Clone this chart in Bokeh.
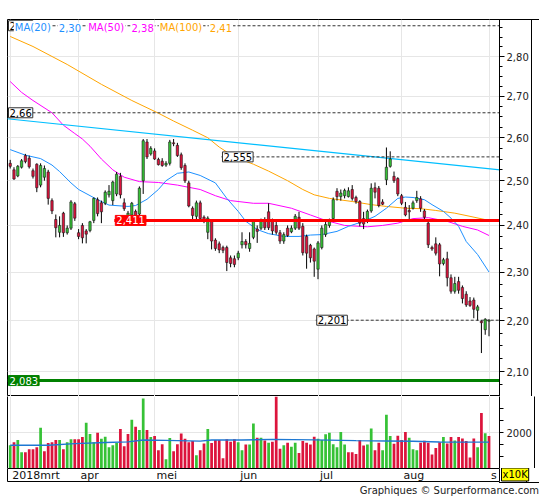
from bokeh.plotting import figure
from bokeh.models import (Range1d, FixedTicker, Label, ColumnDataSource,
                          CustomJSTickFormatter, Div, LinearAxis)
from bokeh.layouts import column
from bokeh.embed import file_html
from bokeh.resources import INLINE

FONT = "DejaVu Sans"

# ---------------- data ----------------
month_labels = ["2018mrt", "apr", "mei", "jun", "jul", "aug", "s"]
month_start = [0, 18, 38, 60, 81, 103, 126]

opens = [2.540, 2.525, 2.511, 2.531, 2.558, 2.552, 2.523, 2.538, 2.490, 2.508,
         2.520, 2.455, 2.413, 2.385, 2.427, 2.384, 2.394, 2.448, 2.384, 2.400,
         2.388, 2.389, 2.411, 2.457, 2.450, 2.449, 2.468, 2.455, 2.470, 2.510,
         2.450, 2.416, 2.423, 2.431, 2.425, 2.500, 2.590, 2.562, 2.569, 2.549,
         2.545, 2.536, 2.540, 2.588, 2.582, 2.560, 2.535, 2.495, 2.438, 2.420,
         2.450, 2.418, 2.385, 2.410, 2.368, 2.360, 2.352, 2.352, 2.330, 2.328,
         2.330, 2.358, 2.365, 2.350, 2.374, 2.392, 2.394, 2.410, 2.430, 2.410,
         2.400, 2.384, 2.366, 2.394, 2.386, 2.394, 2.418, 2.398, 2.376, 2.357,
         2.349, 2.306, 2.352, 2.380, 2.400, 2.415, 2.476, 2.464, 2.466, 2.464,
         2.480, 2.462, 2.453, 2.415, 2.409, 2.432, 2.484, 2.483, 2.452, 2.502,
         2.533, 2.510, 2.505, 2.466, 2.440, 2.433, 2.438, 2.455, 2.459, 2.432,
         2.405, 2.352, 2.360, 2.358, 2.318, 2.328, 2.288, 2.260, 2.280, 2.268,
         2.254, 2.240, 2.242, 2.221, 2.199, 2.182, 2.199]
highs = [2.548, 2.531, 2.536, 2.550, 2.562, 2.558, 2.528, 2.540, 2.540, 2.535,
         2.525, 2.460, 2.424, 2.420, 2.430, 2.400, 2.456, 2.452, 2.392, 2.405,
         2.392, 2.410, 2.462, 2.462, 2.455, 2.478, 2.490, 2.500, 2.520, 2.518,
         2.460, 2.432, 2.452, 2.435, 2.487, 2.597, 2.597, 2.580, 2.575, 2.553,
         2.552, 2.545, 2.595, 2.597, 2.588, 2.565, 2.540, 2.500, 2.442, 2.455,
         2.455, 2.422, 2.420, 2.414, 2.372, 2.365, 2.356, 2.356, 2.335, 2.335,
         2.345, 2.385, 2.370, 2.385, 2.413, 2.400, 2.415, 2.418, 2.449, 2.415,
         2.410, 2.390, 2.385, 2.400, 2.400, 2.425, 2.430, 2.405, 2.380, 2.360,
         2.352, 2.366, 2.400, 2.408, 2.415, 2.462, 2.483, 2.480, 2.482, 2.485,
         2.490, 2.466, 2.456, 2.430, 2.435, 2.494, 2.496, 2.488, 2.458, 2.577,
         2.568, 2.521, 2.508, 2.470, 2.452, 2.445, 2.455, 2.477, 2.465, 2.436,
         2.410, 2.356, 2.374, 2.362, 2.330, 2.343, 2.295, 2.290, 2.290, 2.272,
         2.260, 2.248, 2.247, 2.232, 2.201, 2.205, 2.203]
lows = [2.528, 2.502, 2.508, 2.528, 2.540, 2.528, 2.505, 2.474, 2.485, 2.500,
        2.446, 2.425, 2.374, 2.374, 2.375, 2.380, 2.390, 2.410, 2.370, 2.361,
        2.361, 2.385, 2.405, 2.420, 2.405, 2.445, 2.462, 2.445, 2.465, 2.460,
        2.432, 2.410, 2.410, 2.410, 2.420, 2.470, 2.550, 2.558, 2.548, 2.535,
        2.532, 2.532, 2.535, 2.580, 2.555, 2.525, 2.495, 2.440, 2.408, 2.410,
        2.410, 2.405, 2.370, 2.348, 2.345, 2.340, 2.340, 2.302, 2.310, 2.310,
        2.325, 2.350, 2.350, 2.343, 2.370, 2.362, 2.390, 2.390, 2.390, 2.380,
        2.380, 2.360, 2.360, 2.375, 2.383, 2.390, 2.390, 2.335, 2.307, 2.320,
        2.290, 2.285, 2.348, 2.375, 2.395, 2.410, 2.455, 2.455, 2.460, 2.462,
        2.455, 2.448, 2.398, 2.392, 2.405, 2.428, 2.460, 2.440, 2.445, 2.490,
        2.530, 2.495, 2.465, 2.445, 2.420, 2.413, 2.435, 2.450, 2.430, 2.412,
        2.351, 2.345, 2.335, 2.291, 2.314, 2.270, 2.255, 2.255, 2.255, 2.235,
        2.228, 2.228, 2.205, 2.200, 2.136, 2.172, 2.169]
closes = [2.533, 2.504, 2.533, 2.546, 2.544, 2.532, 2.510, 2.484, 2.535, 2.528,
          2.460, 2.432, 2.395, 2.400, 2.384, 2.394, 2.452, 2.416, 2.376, 2.373,
          2.381, 2.408, 2.460, 2.426, 2.430, 2.474, 2.476, 2.497, 2.515, 2.468,
          2.437, 2.427, 2.449, 2.420, 2.483, 2.593, 2.555, 2.575, 2.550, 2.537,
          2.535, 2.540, 2.590, 2.586, 2.558, 2.530, 2.500, 2.443, 2.422, 2.450,
          2.415, 2.412, 2.416, 2.366, 2.350, 2.347, 2.346, 2.320, 2.318, 2.316,
          2.340, 2.365, 2.358, 2.361, 2.409, 2.387, 2.409, 2.395, 2.395, 2.388,
          2.385, 2.366, 2.380, 2.378, 2.394, 2.420, 2.394, 2.341, 2.340, 2.330,
          2.323, 2.362, 2.394, 2.402, 2.410, 2.457, 2.464, 2.472, 2.478, 2.477,
          2.460, 2.453, 2.405, 2.403, 2.431, 2.483, 2.474, 2.444, 2.447, 2.531,
          2.550, 2.500, 2.470, 2.449, 2.423, 2.430, 2.450, 2.462, 2.438, 2.418,
          2.358, 2.349, 2.340, 2.317, 2.326, 2.288, 2.260, 2.276, 2.262, 2.245,
          2.232, 2.231, 2.223, 2.228, 2.196, 2.203, 2.201]
volumes = [1300, 1470, 1590, 910, 910, 1080, 1080, 1190, 2270, 960,
           1420, 1470, 1590, 1590, 1080, 1470, 1640, 1640, 1640, 1760,
           2550, 1930, 1470, 2000, 1660, 1770, 1190, 1300, 1420, 2210,
           1250, 1930, 2720, 2330, 2150, 3910, 2150, 1760, 1810, 1020,
           1360, 510, 1700, 960, 1360, 1950, 1660, 1470, 1530, 740,
           1020, 1400, 2210, 1420, 1590, 1590, 570, 1640, 1490, 1640,
           1470, 1020, 1340, 1340, 2510, 1720, 1720, 1570, 1440, 1500,
           4100, 1100, 1300, 1440, 1210, 1440, 870, 1530, 1440, 1340,
           1780, 1660, 1590, 1910, 2000, 1360, 1190, 2040, 1340, 910,
           910, 810, 1590, 1290, 1340, 2230, 1020, 1440, 1020, 3000,
           1810, 1380, 1830, 1590, 2040, 1720, 1080, 1020, 1440, 1550,
           1440, 780, 1150, 1470, 1760, 1400, 1760, 1570, 1760, 1680,
           1530, 620, 1680, 1190, 3100, 1970, 1810]

ma20_idx = [0, 4, 8, 11, 13, 16, 18, 23, 26, 31, 33, 36, 39, 41, 44, 47, 50, 54, 57, 60,
            62, 65, 68, 72, 76, 79, 82, 86, 89, 93, 96, 99, 102, 104, 106, 109, 111, 114,
            116, 118, 120, 123, 126]
ma20_val = [2.572, 2.559, 2.551, 2.536, 2.521, 2.495, 2.480, 2.457, 2.445, 2.442,
            2.444, 2.458, 2.480, 2.500, 2.517, 2.520, 2.512, 2.495, 2.460, 2.431,
            2.409, 2.391, 2.382, 2.376, 2.376, 2.379, 2.380, 2.387, 2.398, 2.409,
            2.420, 2.438, 2.460, 2.463, 2.462, 2.457, 2.446, 2.431, 2.416, 2.398,
            2.365, 2.337, 2.300]
ma50_idx = [0, 3, 6, 11, 14, 17, 19, 21, 24, 27, 30, 34, 39, 44, 50, 54, 58, 64, 68, 74,
            79, 83, 88, 94, 98, 102, 106, 110, 115, 119, 123, 126]
ma50_val = [2.737, 2.710, 2.690, 2.660, 2.630, 2.610, 2.597, 2.580, 2.550, 2.525,
            2.508, 2.498, 2.496, 2.490, 2.480, 2.466, 2.455, 2.449, 2.449, 2.438,
            2.423, 2.411, 2.400, 2.397, 2.400, 2.405, 2.415, 2.417, 2.409, 2.398,
            2.390, 2.378]
ma100_idx = [0, 6, 15, 24, 32, 39, 43, 48, 52, 55, 59, 64, 68, 73, 77, 80, 84, 90, 95,
             99, 104, 108, 112, 117, 121, 126]
ma100_val = [2.852, 2.826, 2.780, 2.730, 2.690, 2.659, 2.640, 2.618, 2.600, 2.578,
             2.555, 2.538, 2.522, 2.500, 2.480, 2.468, 2.460, 2.453, 2.446, 2.442,
             2.438, 2.437, 2.433, 2.427, 2.420, 2.411]
vma_idx = [0, 10, 17, 25, 31, 35, 41, 50, 53, 61, 69, 80, 91, 99, 106, 113, 126]
vma_val = [1300, 1300, 1390, 1450, 1490, 1590, 1570, 1530, 1590, 1590, 1625, 1600,
           1560, 1540, 1520, 1480, 1475]

trend_idx = [-1, 130]
trend_val = [2.6457, 2.5240]

level_values = [2.88, 2.66, 2.555, 2.411, 2.201, 2.083]
level_texts = ["2,88", "2,66", "2,555", "2,411", "2,201", "2,083"]
level_kinds = ["dash", "dash", "dash", "red", "dash", "green"]

price_ticks = [2.1, 2.2, 2.3, 2.4, 2.5, 2.6, 2.7, 2.8]
vol_ticks = [2000]

# ---------------- layout constants ----------------
X_LO, X_HI = -0.71, 128.76
Y_LO, Y_HI = 2.0529, 2.8965
V_HI = 4023
W = 539            # canvas width (page x 0 .. 538)
LEFT = 7           # frame starts at x = 7
FRAME_W = 492      # frame x 7 .. 498, right axis line at 499
RIGHT = W - LEFT - FRAME_W
level_from = [X_LO, X_LO, 55.6, 27.4, 80.4, X_LO]

GREEN = "#36C236"
RED = "#DC143C"
MA20_C = "#1E90FF"
MA50_C = "#FF00FF"
MA100_C = "#FFA500"
TREND_C = "#00BFFF"
GRID_C = "#E6E6E6"

n = len(closes)
xs = list(range(n))
src = ColumnDataSource(dict(
    x=xs, o=opens, h=highs, l=lows, c=closes,
    top=[max(o, c) for o, c in zip(opens, closes)],
    bot=[min(o, c) for o, c in zip(opens, closes)],
    col=[GREEN if c >= o else RED for o, c in zip(opens, closes)],
    vol=volumes,
    vcol=[GREEN if (i == 0 or closes[i] >= closes[i - 1]) else RED for i in xs],
))


def style_axis(ax, tick_out, minor_out, standoff):
    ax.major_tick_in = 0
    ax.major_tick_out = tick_out
    ax.minor_tick_in = 0
    ax.minor_tick_out = minor_out
    ax.major_label_standoff = standoff
    ax.major_label_text_font = FONT
    ax.major_label_text_font_size = "10px"
    ax.major_label_text_color = "#222222"
    ax.axis_line_color = "black"
    ax.major_tick_line_color = "black"
    ax.minor_tick_line_color = "black"


def bare_axis(size, line):
    return LinearAxis(ticker=FixedTicker(ticks=[]),
                      axis_line_color="black" if line else None,
                      major_tick_line_color=None, minor_tick_line_color=None,
                      major_tick_in=0, major_tick_out=size, minor_tick_out=0,
                      major_label_standoff=0)


def add_edge(fig, gap):
    # spacer of `gap` pixels, then the outer right edge line of the chart box
    fig.add_layout(bare_axis(gap, False), "right")
    fig.add_layout(bare_axis(0, True), "right")


# ---------------- price panel ----------------
p = figure(width=W, height=19 + 377, title=None,
           x_range=Range1d(X_LO, X_HI), y_range=Range1d(Y_LO, Y_HI),
           y_axis_type="log", y_axis_location="right", x_axis_location=None,
           output_backend="svg", toolbar_location=None,
           min_border_left=LEFT, min_border_top=19, min_border_bottom=0,
           min_border_right=RIGHT,
           outline_line_color="black", background_fill_color="white",
           border_fill_color=None,
           styles={"background-image": "linear-gradient(#000000, #000000)",
                   "background-repeat": "no-repeat",
                   "background-size": "40px 1px",
                   "background-position": "right 0px top 19px"})

yax = p.yaxis[0]
yax.ticker = FixedTicker(ticks=price_ticks,
                         minor_ticks=[round(2.05 + 0.025 * k, 3) for k in range(36)])
yax.formatter = CustomJSTickFormatter(code="return tick.toFixed(2).replace('.', ',');")
style_axis(yax, 5, 3, 2)
add_edge(p, 10)

p.ygrid.ticker = FixedTicker(ticks=price_ticks)
p.xgrid.ticker = FixedTicker(ticks=month_start)
p.grid.grid_line_color = GRID_C

p.line(ma100_idx, ma100_val, line_color=MA100_C, line_width=1)
p.line(ma50_idx, ma50_val, line_color=MA50_C, line_width=1)
p.line(ma20_idx, ma20_val, line_color=MA20_C, line_width=1)
p.line(trend_idx, trend_val, line_color=TREND_C, line_width=1.2)

p.segment(x0="x", y0="h", x1="x", y1="l", source=src, line_color="black", line_width=1)
p.vbar(x="x", width=0.62, top="top", bottom="bot", fill_color="col",
       line_color="#1a1a1a", line_width=0.6, source=src)

for v, t, k, x0 in zip(level_values, level_texts, level_kinds, level_from):
    if k == "dash":
        p.segment(x0=[x0], y0=[v], x1=[X_HI], y1=[v], line_color="#333333",
                  line_width=1, line_dash="3 2")
        bg, fg, bd = "white", "black", "#333333"
    elif k == "red":
        p.segment(x0=[x0], y0=[v], x1=[X_HI], y1=[v], line_color="#FF0000", line_width=3)
        bg, fg, bd = "#FF0000", "white", "#FF0000"
    else:
        p.segment(x0=[x0], y0=[v], x1=[X_HI], y1=[v], line_color="#008000", line_width=3)
        bg, fg, bd = "#008000", "white", "#008000"
    p.add_layout(Label(x=x0, y=v, x_offset=1, text=t, text_font=FONT,
                       text_font_size="10px", text_color=fg, text_align="left",
                       text_baseline="middle", background_fill_color=bg,
                       border_line_color=bd, padding=1))


def fmt(v):
    return f"{v:.2f}".replace(".", ",")


legend_items = [("MA(20)", MA20_C, 6.3), (fmt(ma20_val[-1]), MA20_C, 50.3),
                ("MA(50)", MA50_C, 79.7), (fmt(ma50_val[-1]), MA50_C, 123.0),
                ("MA(100)", MA100_C, 151.3), (fmt(ma100_val[-1]), MA100_C, 201.3)]
for t, c, off in legend_items:
    p.add_layout(Label(x=X_LO, y=Y_HI, x_offset=off, y_offset=-8, text=t,
                       text_font=FONT, text_font_size="10px", text_color=c,
                       text_align="left", text_baseline="middle",
                       background_fill_color="white", padding=1))

# ---------------- volume panel ----------------
pv = figure(width=W, height=72, title=None,
            x_range=p.x_range, y_range=Range1d(0, V_HI),
            y_axis_location="right", x_axis_location=None,
            output_backend="svg", toolbar_location=None,
            min_border_left=LEFT, min_border_top=0, min_border_bottom=0,
            min_border_right=RIGHT,
            outline_line_color=None, background_fill_color="white",
            border_fill_color="white")
vax = pv.yaxis[0]
vax.ticker = FixedTicker(ticks=vol_ticks, minor_ticks=[666.67, 1333.33, 2666.67, 3333.33])
style_axis(vax, 4, 4, 3)
add_edge(pv, 7)
pv.add_layout(bare_axis(0, True), "left")

pv.ygrid.ticker = FixedTicker(ticks=vol_ticks)
pv.xgrid.ticker = FixedTicker(ticks=month_start)
pv.grid.grid_line_color = GRID_C

pv.vbar(x="x", width=0.72, top="vol", bottom=0, fill_color="vcol", line_color=None,
        source=src)
pv.line(vma_idx, vma_val, line_color="#1E78D2", line_width=1.4)

# ---------------- date strip ----------------
ps = figure(width=W, height=14, title=None,
            x_range=p.x_range, y_range=Range1d(0, 1),
            x_axis_location=None, y_axis_location=None,
            output_backend="svg", toolbar_location=None,
            min_border_left=LEFT, min_border_top=0, min_border_bottom=0,
            min_border_right=RIGHT,
            outline_line_color="black", background_fill_color="white",
            border_fill_color="white")
ps.grid.visible = False
for t, m in zip(month_labels, month_start):
    ps.add_layout(Label(x=m, y=0.5, x_offset=2, text=t, text_font=FONT,
                        text_font_size="11px", text_color="#111111",
                        text_align="left", text_baseline="middle"))
ps.add_layout(Label(x=2, y=8, x_units="screen", y_units="screen", text="x10K",
                    text_font=FONT, text_font_size="10px", text_color="black",
                    text_align="left", text_baseline="middle",
                    background_fill_color="#FFFF00", border_line_color="black",
                    padding=1),
              "right")
add_edge(ps, 12)

footer = Div(text="Graphiques © Surperformance.com", width=W, height=17,
             margin=(0, 0, 0, 0),
             styles={"text-align": "right", "font-family": FONT, "font-size": "10px",
                     "line-height": "18px", "color": "#222222",
                     "background-image": "linear-gradient(#000000, #000000)",
                     "background-repeat": "no-repeat",
                     "background-size": "40px 1px",
                     "background-position": "right 0px top 0px"})
layout = column(p, pv, ps, footer, spacing=0)

open("out.html", "w").write(file_html(layout, INLINE))
